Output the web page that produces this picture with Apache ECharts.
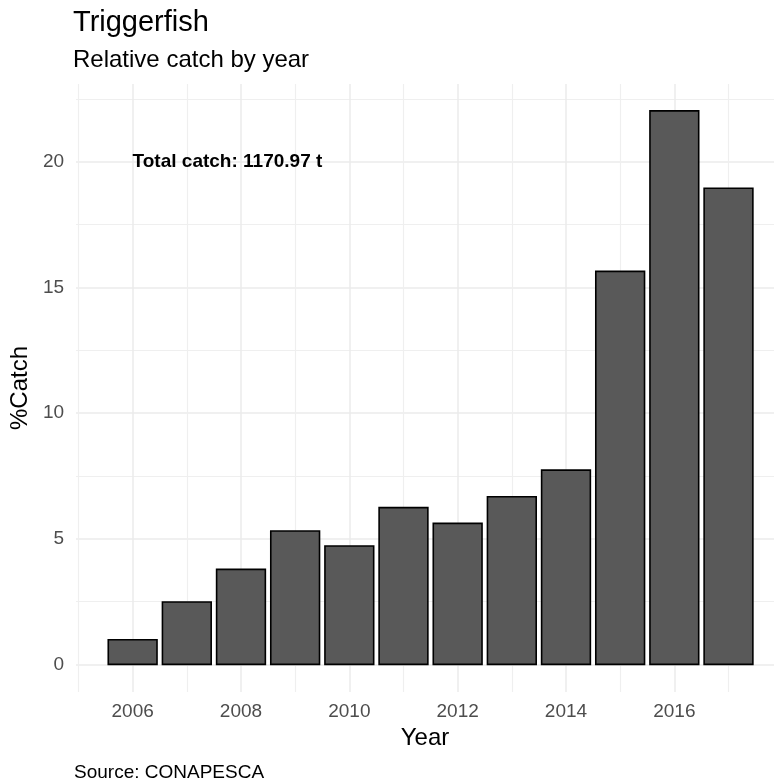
<!DOCTYPE html>
<html>
<head>
<meta charset="utf-8">
<script src="https://cdn.jsdelivr.net/npm/echarts@6/dist/echarts.min.js"></script>
<style>
  html, body { margin: 0; padding: 0; background: #fff; }
  #chart { width: 774px; height: 783px; }
</style>
</head>
<body>
<div id="chart"></div>
<script>
// data
var years = [2006, 2007, 2008, 2009, 2010, 2011, 2012, 2013, 2014, 2015, 2016, 2017];
var catchPct = [0.98, 2.48, 3.78, 5.31, 4.71, 6.24, 5.61, 6.67, 7.73, 15.64, 22.03, 18.95];
var xTicks = [2006, 2008, 2010, 2012, 2014, 2016];
var xMinorTicks = [2005, 2007, 2009, 2011, 2013, 2015, 2017];
var yTicks = [0, 5, 10, 15, 20];
var yMinorTicks = [2.5, 7.5, 12.5, 17.5, 22.5];
var totalLabel = 'Total catch: 1170.97 t';

var font = '"Liberation Sans", Arial, sans-serif';
var chart = echarts.init(document.getElementById('chart'));

var barData = years.map(function (y, i) { return [y, catchPct[i]]; });

// the panel runs past the right edge of the picture, so stop the axis at the edge
var xMin = 2004.955, xMax = 2017.84;
var yMin = -1.1, yMax = 23.1;

var option = {
    animation: false,
    backgroundColor: '#ffffff',
    textStyle: { fontFamily: font },
    title: [
        { text: 'Triggerfish', left: 73, top: 8, padding: 0,
          textStyle: { fontFamily: font, fontSize: 29, fontWeight: 'normal', color: '#000' } },
        { text: 'Relative catch by year', left: 73, top: 48, padding: 0,
          textStyle: { fontFamily: font, fontSize: 24, fontWeight: 'normal', color: '#000' } },
        { text: 'Source: CONAPESCA', left: 74, top: 763, padding: 0,
          textStyle: { fontFamily: font, fontSize: 19, fontWeight: 'normal', color: '#000' } }
    ],
    grid: { left: 74, top: 84, right: 0, height: 608, containLabel: false },
    xAxis: [
        {
            type: 'value', min: xMin, max: xMax,
            name: 'Year', nameLocation: 'middle', nameGap: 34,
            nameTextStyle: { fontFamily: font, fontSize: 24, color: '#000' },
            axisLine: { show: false },
            axisTick: { show: false, customValues: xTicks },
            axisLabel: { customValues: xTicks, fontSize: 19, color: '#4D4D4D', margin: 10,
                         formatter: function (v) { return String(v); } },
            splitLine: { show: true, lineStyle: { color: '#EBEBEB', width: 1.5 } }
        },
        {
            type: 'value', min: xMin, max: xMax,
            axisLine: { show: false },
            axisTick: { show: false, customValues: xMinorTicks },
            axisLabel: { show: false, customValues: xMinorTicks },
            splitLine: { show: true, lineStyle: { color: '#EFEFEF', width: 1.2 } }
        }
    ],
    yAxis: [
        {
            type: 'value', min: yMin, max: yMax,
            name: '%Catch', nameLocation: 'middle', nameGap: 42,
            nameTextStyle: { fontFamily: font, fontSize: 24, color: '#000' },
            axisLine: { show: false },
            axisTick: { show: false, customValues: yTicks },
            axisLabel: { customValues: yTicks, fontSize: 19, color: '#4D4D4D', margin: 12 },
            splitLine: { show: true, lineStyle: { color: '#EBEBEB', width: 1.5 } }
        },
        {
            type: 'value', min: yMin, max: yMax,
            axisLine: { show: false },
            axisTick: { show: false, customValues: yMinorTicks },
            axisLabel: { show: false, customValues: yMinorTicks },
            splitLine: { show: true, lineStyle: { color: '#EFEFEF', width: 1.2 } }
        }
    ],
    series: [
        {
            type: 'custom',
            xAxisIndex: 0, yAxisIndex: 0,
            data: barData,
            renderItem: function (params, api) {
                var x = api.value(0), v = api.value(1);
                var p0 = api.coord([x - 0.45, v]);
                var p1 = api.coord([x + 0.45, 0]);
                return {
                    type: 'rect',
                    shape: { x: p0[0], y: p0[1], width: p1[0] - p0[0], height: p1[1] - p0[1] },
                    style: { fill: '#595959', stroke: '#000', lineWidth: 1.6 }
                };
            }
        },
        {
            // annotation placed at data coordinates
            type: 'custom',
            xAxisIndex: 0, yAxisIndex: 0,
            data: [[2007.75, 20]],
            silent: true,
            renderItem: function (params, api) {
                var p = api.coord([api.value(0), api.value(1)]);
                return {
                    type: 'text',
                    x: p[0], y: p[1],
                    style: {
                        text: totalLabel, fill: '#000', align: 'center', verticalAlign: 'middle',
                        font: 'bold 19px ' + font
                    }
                };
            }
        }
    ]
};
chart.setOption(option);
</script>
</body>
</html>
